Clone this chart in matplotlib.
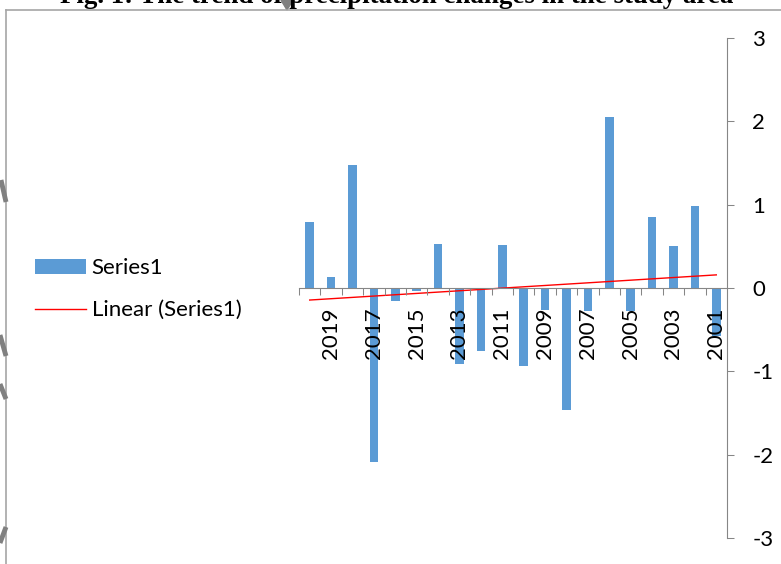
import numpy as np
import matplotlib
matplotlib.use("Agg")
from matplotlib import pyplot as plt
from matplotlib.lines import Line2D
from matplotlib.patches import Polygon

# Yearly precipitation anomaly, newest year first
years = list(range(2020, 2000, -1))
values = [0.79, 0.13, 1.48, -2.09, -0.15, -0.03, 0.53, -0.91, -0.75, 0.52,
          -0.93, -0.26, -1.46, -0.28, 2.05, -0.27, 0.85, 0.50, 0.98, -0.57]
y_ticks = [-3, -2, -1, 0, 1, 2, 3]
title = "Fig. 1: The trend of precipitation changes in the study area"

W, H = 781, 564
fig = plt.figure(figsize=(W / 100, H / 100), dpi=100)

def px(x, y):
    return x / W, 1 - y / H

ax = fig.add_axes([299 / W, 1 - 538 / H, 428 / W, 500 / H])

pos = np.arange(len(years))
bars = ax.bar(pos, values, width=0.4, color='#5B9BD5', label='Series1', zorder=1)

# Excel-style linear trend over the category index
coef = np.polyfit(pos + 1, values, 1)
trend = np.polyval(coef, pos + 1)
line, = ax.plot(pos, trend, color='red', lw=1.0, label='Linear (Series1)', zorder=1.2)

ax.set_xlim(-0.5, len(years) - 0.5)
ax.set_ylim(-3, 3)

grey = '#868686'
ax.spines['left'].set_visible(False)
ax.spines['top'].set_visible(False)
ax.spines['right'].set_color(grey)
ax.spines['bottom'].set_color(grey)
ax.spines['bottom'].set_position(('data', 0))

ax.yaxis.tick_right()
ax.set_yticks(y_ticks)
ax.set_yticklabels([str(v) for v in y_ticks])
ax.tick_params(axis='y', direction='out', length=4.8, width=0.75, color=grey,
               pad=13.5, labelsize=16)

# tick marks between categories, labels on every other year
ax.set_xticks(np.arange(-0.5, len(years) - 1, 1.0))
ax.set_xticklabels([])
ax.tick_params(axis='x', which='major', direction='out', length=5.2, width=0.75, color=grey)
ax.set_xticks(pos[1::2], minor=True)
ax.set_xticklabels([str(y) for y in years[1::2]], minor=True, rotation=90)
ax.tick_params(axis='x', which='minor', length=0, pad=14, labelsize=16)
for lab in ax.get_xticklabels(minor=True) + ax.get_yticklabels():
    lab.set_family('Lato')

ax.legend([bars, line], ['Series1', 'Linear (Series1)'],
          loc='center left', bbox_to_anchor=(px(35, 289)), bbox_transform=fig.transFigure,
          frameon=False, borderpad=0, borderaxespad=0, handlelength=2.3,
          handleheight=0.65, handletextpad=0.25, labelspacing=1.0,
          prop={'family': 'Lato', 'size': 16})

# page border and title cut at the top edge
fig.add_artist(Line2D([px(6, 0)[0], px(6, 0)[0]], [px(0, 10)[1], 0], color='#a6a6a6', lw=1.2))
fig.add_artist(Line2D([px(6, 0)[0], 1], [px(0, 10)[1], px(0, 10)[1]], color='#a6a6a6', lw=1.2))
fig.text(px(397, 0)[0], px(0, 3)[1], title, ha='center', va='baseline',
         family='Liberation Serif', weight='bold', fontsize=19.4)
fig.add_artist(Polygon([px(281, 0), px(293, 0), px(287, 10)], closed=True,
                       color='#808080', transform=fig.transFigure))

# stray grey strokes along the left edge
for (x0, y0), (x1, y1) in [((1, 180), (6, 202)), ((0, 335), (6, 356)),
                           ((0, 384), (6, 399)), ((6, 527), (0, 543))]:
    a, b = px(x0, y0), px(x1, y1)
    fig.add_artist(Line2D([a[0], b[0]], [a[1], b[1]], color='#808080', lw=3.5,
                          solid_capstyle='butt'))

fig.savefig('out.png', dpi=100)
